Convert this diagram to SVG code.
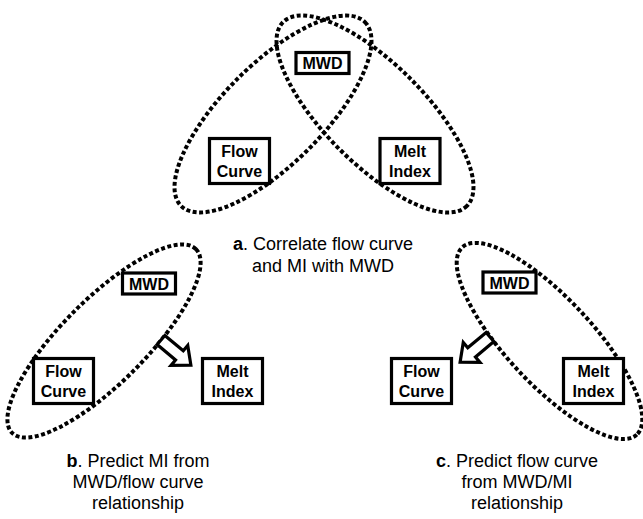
<svg xmlns="http://www.w3.org/2000/svg" width="643" height="519" viewBox="0 0 643 519">
<style>
.ell{fill:none;stroke:#000;stroke-width:4;stroke-dasharray:4 2.5}
.box{fill:#fff;stroke:#000;stroke-width:3.2}
.lbl{font-family:"Liberation Sans",Arial,sans-serif;font-weight:bold;font-size:16px;text-anchor:middle;fill:#000}
.cap{font-family:"Liberation Sans",Arial,sans-serif;font-size:18px;text-anchor:middle;fill:#000}
.arr{fill:#fff;stroke:#000;stroke-width:3.2;stroke-linejoin:miter}
</style>
<rect width="643" height="519" fill="#fff"/>
<g id="groups">
<ellipse class="ell" cx="273" cy="114" rx="130" ry="50" transform="rotate(-45 273 114)"/>
<ellipse class="ell" cx="375" cy="114" rx="130" ry="50" transform="rotate(45 375 114)"/>
<ellipse class="ell" cx="104" cy="341" rx="130" ry="42" transform="rotate(-45 104 341)"/>
<ellipse class="ell" cx="549.5" cy="341" rx="128" ry="43" transform="rotate(47 549.5 341)"/>
</g>
<g id="connectors">
<path class="arr" transform="translate(161 340) rotate(40)" d="M0,-6 L24,-6 L24,-13 L39,0 L24,13 L24,6 L0,6 Z"/>
<path class="arr" transform="translate(490 337) rotate(140)" d="M0,-6 L24,-6 L24,-13 L39,0 L24,13 L24,6 L0,6 Z"/>
</g>
<g id="a-mwd"><rect class="box" x="296" y="52.5" width="53" height="21"/><text class="lbl" x="322.5" y="69">MWD</text></g>
<g id="a-flow"><rect class="box" x="209.5" y="138.5" width="60" height="45"/><text class="lbl" x="239.5" y="157">Flow</text><text class="lbl" x="239.5" y="177">Curve</text></g>
<g id="a-melt"><rect class="box" x="380" y="138.5" width="60" height="45"/><text class="lbl" x="410" y="157">Melt</text><text class="lbl" x="410" y="177">Index</text></g>
<g id="b-mwd"><rect class="box" x="122.5" y="273" width="53" height="21"/><text class="lbl" x="149" y="289.5">MWD</text></g>
<g id="b-flow"><rect class="box" x="33.5" y="358.5" width="60" height="45"/><text class="lbl" x="63.5" y="377">Flow</text><text class="lbl" x="63.5" y="397">Curve</text></g>
<g id="b-melt"><rect class="box" x="202.5" y="358.5" width="60" height="45"/><text class="lbl" x="232.5" y="377">Melt</text><text class="lbl" x="232.5" y="397">Index</text></g>
<g id="c-mwd"><rect class="box" x="483" y="272" width="53" height="21"/><text class="lbl" x="509.5" y="288.5">MWD</text></g>
<g id="c-flow"><rect class="box" x="391.5" y="358.5" width="60" height="45"/><text class="lbl" x="421.5" y="377">Flow</text><text class="lbl" x="421.5" y="397">Curve</text></g>
<g id="c-melt"><rect class="box" x="563.5" y="358.5" width="60" height="45"/><text class="lbl" x="593.5" y="377">Melt</text><text class="lbl" x="593.5" y="397">Index</text></g>
<g id="captions">
<text class="cap" x="323" y="250"><tspan font-weight="bold">a</tspan>. Correlate flow curve</text>
<text class="cap" x="323" y="272">and MI with MWD</text>
<text class="cap" x="138" y="467"><tspan font-weight="bold">b</tspan>. Predict MI from</text>
<text class="cap" x="138" y="488">MWD/flow curve</text>
<text class="cap" x="138" y="509">relationship</text>
<text class="cap" x="517" y="467"><tspan font-weight="bold">c</tspan>. Predict flow curve</text>
<text class="cap" x="517" y="488">from MWD/MI</text>
<text class="cap" x="517" y="509">relationship</text>
</g>
</svg>
